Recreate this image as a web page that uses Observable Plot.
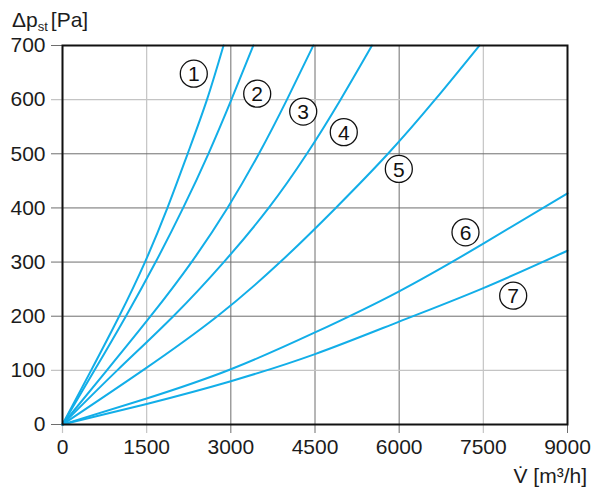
<!DOCTYPE html>
<html>
<head>
<meta charset="utf-8">
<script src="https://cdn.jsdelivr.net/npm/d3@7"></script>
<script src="https://cdn.jsdelivr.net/npm/@observablehq/plot@0.6"></script>
<style>
  html, body { margin: 0; padding: 0; background: #fff; }
  #chart svg { display: block; }
</style>
</head>
<body>
<div id="chart"></div>
<script>
// ---- data ----
const xTicks = [0, 1500, 3000, 4500, 6000, 7500, 9000];
const yTicks = [0, 100, 200, 300, 400, 500, 600, 700];

// curves 1-5: volume flow (m³/h) at pressure levels (Pa)
const pressLevels = [0, 100, 200, 300, 400, 500, 600, 700];
const flowC1 = [0, 510, 1010, 1470, 1870, 2230, 2575, 2870];
const flowC2 = [0, 570, 1130, 1660, 2150, 2600, 3010, 3400];
const flowC3 = [0, 790, 1570, 2300, 2940, 3500, 4000, 4470];
const flowC4 = [0, 975, 1975, 2875, 3675, 4355, 4955, 5515];
const flowC5 = [0, 1430, 2760, 3880, 4870, 5800, 6640, 7430];

// curves 6-7: pressure (Pa) at volume-flow levels (m³/h)
const flowLevels = [0, 1500, 3000, 4500, 6000, 7500, 9000];
const pressC6 = [0, 48, 102, 170, 246, 334, 427];
const pressC7 = [0, 38, 80, 130, 190, 252, 321];

// curve labels (circled numbers)
const labelNames = ["1", "2", "3", "4", "5", "6", "7"];
const labelFlow = [2340, 3470, 4290, 5013, 5994, 7182, 8032];
const labelPress = [648, 611, 578, 540, 472, 355, 238];

const xLabel = "V̇ [m³/h]";
const yLabelMain = "Δp", yLabelSub = "st", yLabelUnit = "[Pa]";

// ---- build tables ----
const rows = [];
[flowC1, flowC2, flowC3, flowC4, flowC5].forEach((fl, i) =>
  fl.forEach((v, j) => rows.push({curve: labelNames[i], v, p: pressLevels[j]})));
[pressC6, pressC7].forEach((pr, i) =>
  pr.forEach((p, j) => rows.push({curve: labelNames[5 + i], v: flowLevels[j], p})));
const labels = labelNames.map((n, i) => ({n, v: labelFlow[i], p: labelPress[i]}));

// ---- styles ----
const FONT = "'Liberation Sans Narrow', 'Arial Narrow', 'Liberation Sans', sans-serif";
const LIGHT = "#c4c4c4", DARK = "#6e6e6e", CYAN = "#12aee8";
const lightX = new Set([0, 1500, 7500]);
const lightY = new Set([100, 600]);

const chart = Plot.plot({
  width: 600, height: 498,
  marginLeft: 62, marginRight: 33, marginTop: 45, marginBottom: 74,
  x: {domain: [0, 9000]},
  y: {domain: [0, 700]},
  style: {fontFamily: FONT, background: "white", color: "#1c1c1c"},
  marks: [
    Plot.ruleX(xTicks.filter(d => lightX.has(d)), {stroke: LIGHT, strokeWidth: 1.2, insetBottom: -9}),
    Plot.ruleX(xTicks.filter(d => !lightX.has(d)), {stroke: DARK, strokeWidth: 1, insetBottom: -9}),
    Plot.ruleY(yTicks.filter(d => lightY.has(d)), {stroke: LIGHT, strokeWidth: 1.2, insetLeft: -11}),
    Plot.ruleY(yTicks.filter(d => !lightY.has(d)), {stroke: DARK, strokeWidth: 1, insetLeft: -11}),
    Plot.line(rows, {x: "v", y: "p", z: "curve", stroke: CYAN, strokeWidth: 2, curve: "natural"}),
    Plot.frame({stroke: "#111", strokeWidth: 2}),
    Plot.dot(labels, {x: "v", y: "p", r: 13.5, fill: "white", stroke: "#111", strokeWidth: 1.3}),
    Plot.text(labels, {x: "v", y: "p", text: "n", fontSize: 21, fill: "#111", dy: 1}),
    Plot.axisX({ticks: xTicks, tickSize: 0, tickPadding: 15, fontSize: 21, tickFormat: d => String(d), label: null}),
    Plot.axisY({ticks: yTicks, tickSize: 0, tickPadding: 17, fontSize: 21, tickFormat: d => String(d), label: null})
  ]
});

const svg = d3.select(chart);
const yl = svg.append("text")
  .attr("x", 12).attr("y", 27)
  .attr("text-anchor", "start")
  .attr("font-family", FONT).attr("font-size", 21).attr("fill", "#1c1c1c");
yl.append("tspan").text(yLabelMain);
yl.append("tspan").attr("font-size", 13).attr("dy", 4).text(yLabelSub);
yl.append("tspan").attr("dy", -4).attr("dx", 3).text(yLabelUnit);

svg.append("text")
  .attr("x", 587).attr("y", 483)
  .attr("text-anchor", "end")
  .attr("font-family", FONT).attr("font-size", 21).attr("fill", "#1c1c1c")
  .text(xLabel);

document.getElementById("chart").appendChild(chart);
</script>
</body>
</html>
